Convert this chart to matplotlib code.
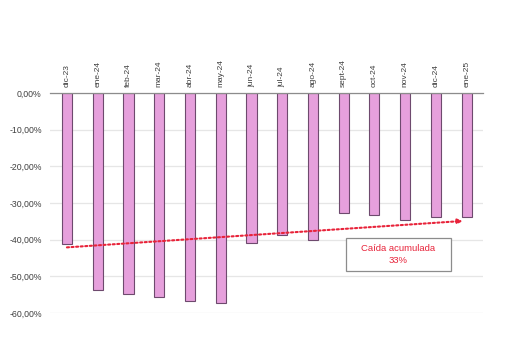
import matplotlib
matplotlib.use("Agg")
import matplotlib.pyplot as plt
from matplotlib.ticker import FuncFormatter
from matplotlib.patches import Rectangle

plt.rcParams['font.family'] = ['Liberation Sans', 'DejaVu Sans']

months = ["dic-23", "ene-24", "feb-24", "mar-24", "abr-24", "may-24", "jun-24",
          "jul-24", "ago-24", "sept-24", "oct-24", "nov-24", "dic-24", "ene-25"]
values = [-41.1, -53.7, -54.8, -55.6, -56.6, -57.3, -41.0,
          -38.8, -40.1, -32.8, -33.2, -34.5, -33.9, -33.7]
trend_start = -42.1
trend_end = -34.9
yticks = [0, -10, -20, -30, -40, -50, -60]
note = "Caída acumulada\n33%"

fig = plt.figure(figsize=(5.12, 3.53), dpi=100)
ax = fig.add_axes([0.0977, 0.1133, 0.845, 0.6232])

x = list(range(len(months)))
ax.bar(x, values, width=0.33, color="#e6a0dc", edgecolor="#6e4a6e", linewidth=0.8, zorder=3)

ax.set_xlim(-0.55, len(months) - 1 + 0.52)
ax.set_ylim(-60, 0)
ax.set_yticks(yticks)
ax.yaxis.set_major_formatter(FuncFormatter(lambda v, p: f"{v:.2f}%".replace(".", ",")))
ax.tick_params(axis='y', length=0, labelsize=6.3, labelcolor="#404040", pad=6)
ax.grid(axis='y', color="#e6e6e6", linewidth=0.9, zorder=0)

ax.xaxis.tick_top()
ax.set_xticks(x)
ax.set_xticklabels(months, rotation=90, fontsize=6, color="#404040")
ax.tick_params(axis='x', length=0, pad=4)

for s in ["left", "right", "bottom"]:
    ax.spines[s].set_visible(False)
ax.spines["top"].set_color("#8c8c8c")
ax.spines["top"].set_linewidth(0.9)
ax.spines["top"].set_zorder(4)

ax.annotate("", xy=(len(months) - 1 - 0.13, trend_end), xytext=(0, trend_start),
            arrowprops=dict(arrowstyle="-|>", color="#e8233a", linestyle=(0, (1, 1.2)),
                            linewidth=1.5, mutation_scale=7, shrinkA=0, shrinkB=0),
            zorder=5)

ax.add_patch(Rectangle((9.06, -48.5), 3.44, 9.0, facecolor="white", edgecolor="#8c8c8c",
                       linewidth=0.9, zorder=6))
ax.text(10.78, -44.0, note, ha="center", va="center", fontsize=6.8, color="#e8233a",
        linespacing=1.5, zorder=7)

fig.savefig("out.png", dpi=100)
